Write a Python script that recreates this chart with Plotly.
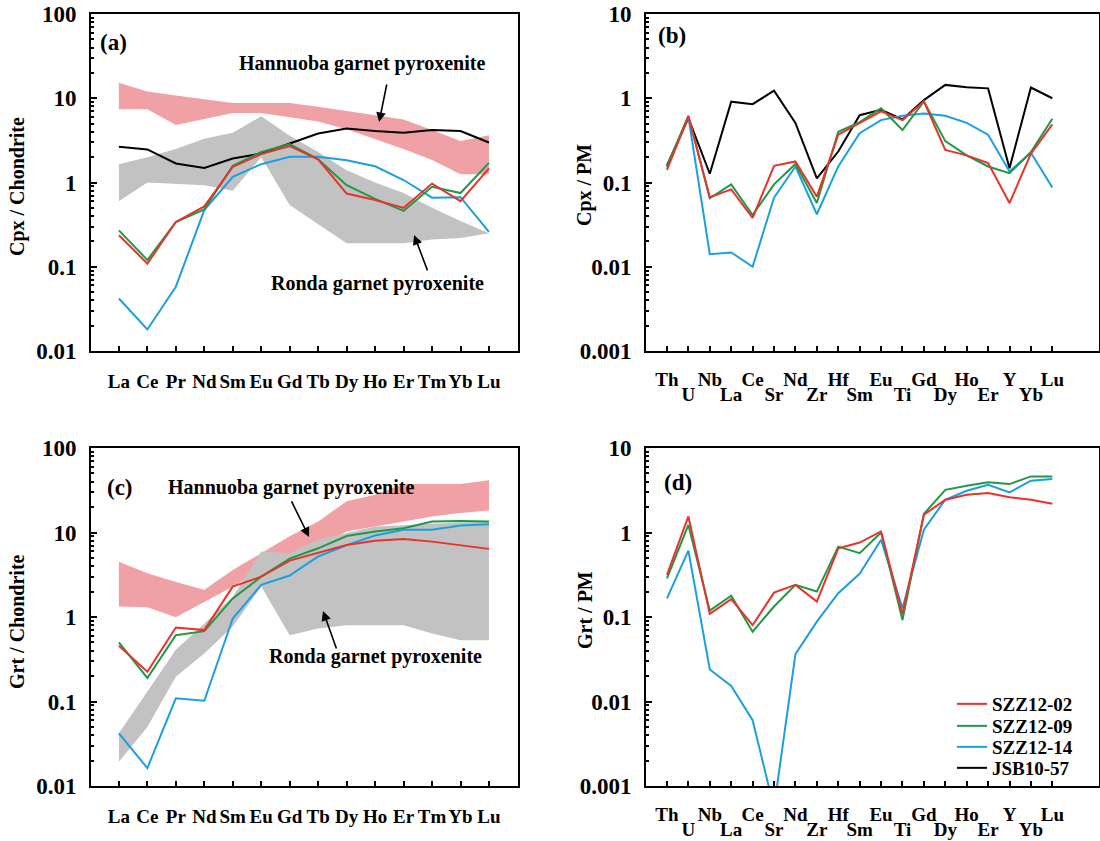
import plotly.graph_objects as go

# ---------------- data ----------------
ree = ["La", "Ce", "Pr", "Nd", "Sm", "Eu", "Gd", "Tb", "Dy", "Ho", "Er", "Tm", "Yb", "Lu"]
pm = ["Th", "U", "Nb", "La", "Ce", "Sr", "Nd", "Zr", "Hf", "Sm", "Eu", "Ti", "Gd", "Dy", "Ho", "Er", "Y", "Yb", "Lu"]

series_names = ["SZZ12-02", "SZZ12-09", "SZZ12-14", "JSB10-57"]
series_colors = ["#E8322C", "#1E9A46", "#1C9FE0", "#000000"]

# (a) Cpx / Chondrite
cpx_ree_02 = [0.237, 0.109, 0.34, 0.52, 1.53, 2.17, 2.7, 1.88, 0.74, 0.62, 0.50, 0.97, 0.60, 1.47]
cpx_ree_09 = [0.27, 0.12, 0.34, 0.48, 1.58, 2.3, 2.85, 1.88, 0.93, 0.64, 0.46, 0.89, 0.75, 1.71]
cpx_ree_14 = [0.042, 0.018, 0.058, 0.47, 1.17, 1.65, 2.02, 2.02, 1.84, 1.56, 1.07, 0.66, 0.67, 0.26]
cpx_ree_57 = [2.65, 2.47, 1.68, 1.49, 1.93, 2.21, 2.9, 3.82, 4.38, 4.08, 3.89, 4.19, 4.08, 2.98]

hann_cpx_upper = [15.3, 12.0, 10.8, 9.8, 8.8, 8.8, 8.8, 7.9, 7.0, 6.3, 5.6, 4.2, 3.1, 3.65]
hann_cpx_lower = [7.4, 7.4, 4.8, 5.7, 6.7, 6.7, 6.0, 5.3, 4.3, 3.3, 2.5, 1.85, 1.25, 1.25]
ronda_cpx_upper = [1.65, 2.0, 2.5, 3.3, 3.9, 6.1, 3.6, 2.3, 1.4, 1.0, 0.75, 0.5, 0.35, 0.25]
ronda_cpx_lower = [0.6, 1.0, 0.97, 0.93, 0.8, 2.0, 0.54, 0.32, 0.19, 0.19, 0.19, 0.21, 0.22, 0.25]

# (b) Cpx / PM
cpx_pm_02 = [0.141, 0.61, 0.067, 0.083, 0.038, 0.158, 0.178, 0.068, 0.37, 0.51, 0.70, 0.55, 0.92, 0.244, 0.21, 0.17, 0.057, 0.22, 0.49]
cpx_pm_09 = [0.155, 0.62, 0.065, 0.095, 0.041, 0.095, 0.166, 0.057, 0.40, 0.52, 0.76, 0.42, 0.92, 0.31, 0.21, 0.155, 0.129, 0.23, 0.57]
cpx_pm_14 = [0.15, 0.60, 0.0141, 0.0148, 0.010, 0.066, 0.155, 0.042, 0.155, 0.385, 0.55, 0.62, 0.66, 0.62, 0.51, 0.37, 0.135, 0.226, 0.087]
cpx_pm_57 = [0.159, 0.58, 0.127, 0.91, 0.85, 1.23, 0.51, 0.112, 0.233, 0.63, 0.73, 0.56, 0.95, 1.44, 1.35, 1.31, 0.148, 1.34, 1.0]

# (c) Grt / Chondrite
grt_ree_02 = [0.457, 0.225, 0.75, 0.70, 2.29, 3.0, 4.65, 5.7, 7.1, 8.0, 8.4, 7.8, 7.1, 6.4]
grt_ree_09 = [0.50, 0.19, 0.61, 0.68, 1.66, 3.0, 4.9, 6.5, 9.1, 10.3, 11.2, 13.5, 13.7, 13.5]
grt_ree_14 = [0.042, 0.0163, 0.109, 0.102, 0.96, 2.4, 3.1, 5.2, 7.1, 9.2, 10.8, 10.8, 12.1, 12.5]

hann_grt_upper = [4.5, 3.3, 2.6, 2.1, 3.6, 5.7, 9.0, 13.5, 23.4, 28.0, 37.4, 37.4, 37.4, 41.4]
hann_grt_lower = [1.33, 1.3, 0.99, 1.5, 2.29, 3.6, 5.2, 6.8, 10.3, 11.8, 13.5, 15.5, 17.0, 18.2]
ronda_grt_upper = [0.042, 0.13, 0.41, 0.84, 1.74, 5.96, 5.7, 8.2, 9.8, 11.8, 12.2, 12.8, 13.0, 13.5]
ronda_grt_lower = [0.0193, 0.05, 0.196, 0.37, 0.77, 2.3, 0.61, 0.73, 0.8, 0.8, 0.8, 0.64, 0.53, 0.53]

# (d) Grt / PM
grt_pm_02 = [0.315, 1.55, 0.109, 0.163, 0.080, 0.194, 0.24, 0.152, 0.65, 0.76, 1.03, 0.108, 1.62, 2.44, 2.8, 2.93, 2.62, 2.44, 2.19]
grt_pm_09 = [0.287, 1.23, 0.119, 0.179, 0.067, 0.133, 0.24, 0.20, 0.68, 0.57, 1.0, 0.092, 1.66, 3.2, 3.57, 3.92, 3.74, 4.61, 4.61]
grt_pm_14 = [0.166, 0.61, 0.0239, 0.0153, 0.0060, 0.00055, 0.0364, 0.088, 0.191, 0.324, 0.82, 0.127, 1.08, 2.44, 3.12, 3.67, 2.98, 4.1, 4.29]

ytick_vals_chon = [0.01, 0.1, 1, 10, 100]
ytick_text_chon = ["0.01", "0.1", "1", "10", "100"]
ytick_vals_pm = [0.001, 0.01, 0.1, 1, 10]
ytick_text_pm = ["0.001", "0.01", "0.1", "1", "10"]

band_pink = "#F0A1A6"
band_gray = "#C2C2C2"

FONT = "Liberation Serif"
W, H = 1100, 841


def px(xp):
    return xp / W


def py(yp):
    return 1 - yp / H


fig = go.Figure()

ree_idx = list(range(len(ree)))
pm_idx = list(range(len(pm)))

legend_ids = ["legend", "legend2", "legend3", "legend4"]


def band(xref, yref, upper, lower, color):
    xs = ree_idx + ree_idx[::-1]
    ys = upper + lower[::-1]
    fig.add_trace(go.Scatter(x=xs, y=ys, xaxis=xref, yaxis=yref, mode="lines",
                             fill="toself", fillcolor=color, line=dict(width=0, color=color),
                             hoverinfo="skip", showlegend=False))


def line(xref, yref, xs, ys, color, name, show=False):
    k = series_names.index(name)
    fig.add_trace(go.Scatter(x=xs, y=ys, xaxis=xref, yaxis=yref, mode="lines",
                             line=dict(color=color, width=2), name=name,
                             showlegend=show, legendgroup=name, legend=legend_ids[k]))


order = [3, 2, 1, 0]

# (a)
band("x", "y", hann_cpx_upper, hann_cpx_lower, band_pink)
band("x", "y", ronda_cpx_upper, ronda_cpx_lower, band_gray)
for k, ys in zip(order, [cpx_ree_57, cpx_ree_14, cpx_ree_09, cpx_ree_02]):
    line("x", "y", ree_idx, ys, series_colors[k], series_names[k])

# (b)
for k, ys in zip(order, [cpx_pm_57, cpx_pm_14, cpx_pm_09, cpx_pm_02]):
    line("x2", "y2", pm_idx, ys, series_colors[k], series_names[k], show=True)

# (c)
band("x3", "y3", hann_grt_upper, hann_grt_lower, band_pink)
band("x3", "y3", ronda_grt_upper, ronda_grt_lower, band_gray)
for k, ys in zip(order[1:], [grt_ree_14, grt_ree_09, grt_ree_02]):
    line("x3", "y3", ree_idx, ys, series_colors[k], series_names[k])

# (d)
for k, ys in zip(order[1:], [grt_pm_14, grt_pm_09, grt_pm_02]):
    line("x4", "y4", pm_idx, ys, series_colors[k], series_names[k])

# ---------------- axes ----------------
dom_left = [px(91), px(518)]
dom_right = [px(646), px(1099)]
dom_top = [py(351), py(14)]
dom_bot = [py(786), py(448)]

xtickfont = dict(family=FONT, size=19, color="black", weight="bold")
ytickfont = dict(family=FONT, size=23, color="black", weight="bold")

common_x = dict(showline=True, linewidth=2, linecolor="black", mirror=True,
                ticks="inside", ticklen=5, tickwidth=1.5, tickcolor="black", tickangle=0,
                showgrid=False, zeroline=False, tickfont=xtickfont, fixedrange=True,
                automargin=False)


def minor_vals(lo, hi):
    return [m * 10 ** e for e in range(lo, hi) for m in range(2, 10)]


common_y = dict(type="log", showline=True, linewidth=2, linecolor="black", mirror=True,
                ticks="inside", ticklen=6, tickwidth=1.5, tickcolor="black",
                showgrid=False, zeroline=False, tickfont=ytickfont, ticklabelstandoff=8,
                tickmode="array", fixedrange=True, automargin=False)

ree_range = [-0.98, 14.02]
pm_range = [-0.98, 20.18]

fig.update_layout(
    xaxis=dict(domain=dom_left, anchor="y", range=ree_range, tickvals=ree_idx, ticktext=ree,
               ticklabelstandoff=12, **common_x),
    yaxis=dict(domain=dom_top, anchor="x", range=[-2, 2], tickvals=ytick_vals_chon, ticktext=ytick_text_chon,
               minor=dict(ticks="inside", ticklen=3, tickcolor="black", tickmode="array",
                          tickvals=minor_vals(-2, 2)), **common_y),
    xaxis2=dict(domain=dom_right, anchor="y2", range=pm_range, tickvals=pm_idx,
                ticktext=[t if i % 2 == 0 else "" for i, t in enumerate(pm)],
                ticklabelstandoff=10, **common_x),
    yaxis2=dict(domain=dom_top, anchor="x2", range=[-3, 1], tickvals=ytick_vals_pm, ticktext=ytick_text_pm,
                minor=dict(ticks="inside", ticklen=3, tickcolor="black", tickmode="array",
                           tickvals=minor_vals(-3, 1)), **common_y),
    xaxis3=dict(domain=dom_left, anchor="y3", range=ree_range, tickvals=ree_idx, ticktext=ree,
                ticklabelstandoff=12, **common_x),
    yaxis3=dict(domain=dom_bot, anchor="x3", range=[-2, 2], tickvals=ytick_vals_chon, ticktext=ytick_text_chon,
                minor=dict(ticks="inside", ticklen=3, tickcolor="black", tickmode="array",
                           tickvals=minor_vals(-2, 2)), **common_y),
    xaxis4=dict(domain=dom_right, anchor="y4", range=pm_range, tickvals=pm_idx,
                ticktext=[t if i % 2 == 0 else "" for i, t in enumerate(pm)],
                ticklabelstandoff=10, **common_x),
    yaxis4=dict(domain=dom_bot, anchor="x4", range=[-3, 1], tickvals=ytick_vals_pm, ticktext=ytick_text_pm,
                minor=dict(ticks="inside", ticklen=3, tickcolor="black", tickmode="array",
                           tickvals=minor_vals(-3, 1)), **common_y),
    # second row of tick labels for the PM diagrams
    xaxis5=dict(overlaying="x2", anchor="y2", side="bottom", range=pm_range, showline=False,
                ticks="", showgrid=False, zeroline=False, tickmode="array", tickangle=0,
                tickvals=pm_idx[1::2], ticktext=pm[1::2], tickfont=xtickfont,
                ticklabelstandoff=30, fixedrange=True, automargin=False),
    xaxis6=dict(overlaying="x4", anchor="y4", side="bottom", range=pm_range, showline=False,
                ticks="", showgrid=False, zeroline=False, tickmode="array", tickangle=0,
                tickvals=pm_idx[1::2], ticktext=pm[1::2], tickfont=xtickfont,
                ticklabelstandoff=30, fixedrange=True, automargin=False),
)

# invisible traces so the overlay axes render
for xa, ya in [("x5", "y2"), ("x6", "y4")]:
    fig.add_trace(go.Scatter(x=[pm_idx[0]], y=[1], xaxis=xa, yaxis=ya, mode="markers",
                             marker=dict(opacity=0), showlegend=False, hoverinfo="skip"))

# ---------------- annotations ----------------
tfont = dict(family=FONT, size=20, color="black", weight="bold")
lab_font = dict(family=FONT, size=23, color="black", weight="bold")
ann = []

# y titles
for text, x, y in [("Cpx / Chondrite", 17, 187), ("Cpx / PM", 585, 185),
                   ("Grt / Chondrite", 17, 622), ("Grt / PM", 585, 610)]:
    ann.append(dict(text=text, x=px(x), y=py(y), xref="paper", yref="paper", showarrow=False,
                    textangle=-90, font=tfont, xanchor="center", yanchor="middle"))

# panel labels
for text, xr, yr, x, y in [("(a)", "x", "y", -0.18, 1.656), ("(b)", "x2", "y2", 0.23, 0.74),
                           ("(c)", "x3", "y3", 0.04, 1.527), ("(d)", "x4", "y4", 0.51, 0.586)]:
    ann.append(dict(text=text, x=x, y=y, xref=xr, yref=yr, showarrow=False, font=lab_font,
                    xanchor="center", yanchor="middle"))

# band labels
for text, xr, yr, x, y in [("Hannuoba garnet pyroxenite", "x", "y", 8.54, 1.418),
                           ("Ronda garnet pyroxenite", "x", "y", 9.10, -1.193),
                           ("Hannuoba garnet pyroxenite", "x3", "y3", 6.04, 1.527),
                           ("Ronda garnet pyroxenite", "x3", "y3", 9.0, -0.473)]:
    ann.append(dict(text=text, x=x, y=y, xref=xr, yref=yr, showarrow=False, font=tfont,
                    xanchor="center", yanchor="middle"))

# arrows
for xr, yr, tx, ty, hx, hy in [("x", "y", 9.42, 1.181, 9.14, 0.718),
                               ("x", "y", 10.86, -1.062, 10.37, -0.623),
                               ("x3", "y3", 6.04, 1.385, 6.68, 0.947),
                               ("x3", "y3", 7.66, -0.391, 7.17, 0.071)]:
    ann.append(dict(text="", x=hx, y=hy, xref=xr, yref=yr, ax=tx, ay=ty, axref=xr, ayref=yr,
                    showarrow=True, arrowhead=2, arrowsize=1.2, arrowwidth=1.6, arrowcolor="black"))

# one legend per row so the row spacing matches the original key
legfont = dict(family=FONT, size=19, color="black", weight="bold")
leg_rows = [704, 726, 747, 768]
legend_layout = {}
for lid, yrow in zip(legend_ids, leg_rows):
    legend_layout[lid] = dict(x=px(952), y=py(yrow), xanchor="left", yanchor="middle",
                              bgcolor="rgba(0,0,0,0)", font=legfont, itemwidth=30,
                              borderwidth=0)

fig.update_layout(
    annotations=ann,
    width=W, height=H,
    margin=dict(l=0, r=0, t=0, b=0, pad=0, autoexpand=False),
    paper_bgcolor="white", plot_bgcolor="white",
    font=dict(family=FONT, color="black", weight="bold"),
    showlegend=True,
    **legend_layout,
)

fig.write_html("out.html")
